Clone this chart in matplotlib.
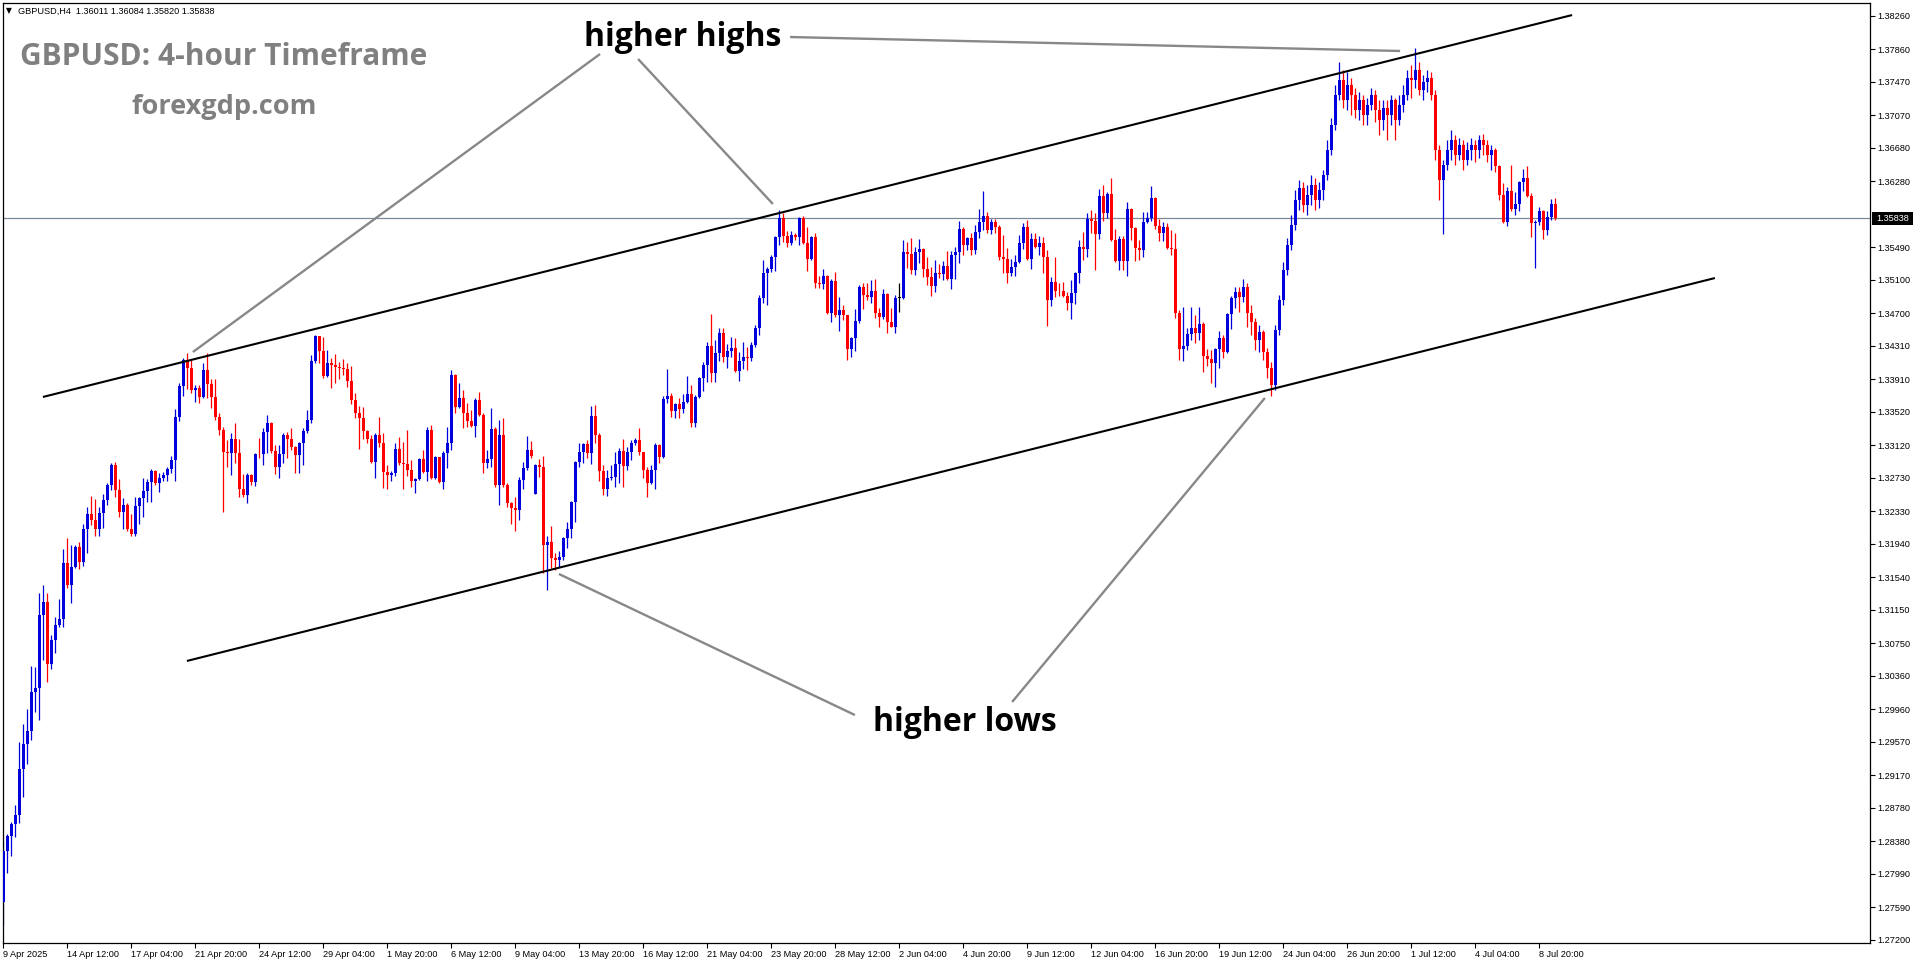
import numpy as np
import matplotlib
matplotlib.use('Agg')
import matplotlib.pyplot as plt
from matplotlib import transforms
from matplotlib.patches import Rectangle

# GBPUSD H4 candles, 9 Apr 2025 20:00 .. 9 Jul 2025 12:00
opens = [
    1.2765, 1.2826, 1.2845, 1.2859, 1.2870, 1.2925, 1.2955, 1.2970, 1.3017, 1.3022,
    1.3109, 1.3124, 1.3050, 1.3079, 1.3097, 1.3104, 1.3171, 1.3145, 1.3166, 1.3190,
    1.3172, 1.3212, 1.3230, 1.3222, 1.3212, 1.3231, 1.3246, 1.3264, 1.3288, 1.3258,
    1.3232, 1.3240, 1.3212, 1.3206, 1.3239, 1.3249, 1.3257, 1.3268, 1.3281, 1.3267,
    1.3273, 1.3276, 1.3284, 1.3294, 1.3346, 1.3383, 1.3414, 1.3404, 1.3378, 1.3381,
    1.3370, 1.3402, 1.3385, 1.3370, 1.3346, 1.3330, 1.3304, 1.3303, 1.3320, 1.3303,
    1.3260, 1.3252, 1.3276, 1.3268, 1.3302, 1.3301, 1.3328, 1.3339, 1.3305, 1.3286,
    1.3302, 1.3324, 1.3319, 1.3310, 1.3300, 1.3315, 1.3329, 1.3342, 1.3413, 1.3443,
    1.3425, 1.3395, 1.3410, 1.3408, 1.3406, 1.3405, 1.3403, 1.3389, 1.3366, 1.3351,
    1.3345, 1.3329, 1.3319, 1.3292, 1.3324, 1.3315, 1.3280, 1.3276, 1.3279, 1.3308,
    1.3291, 1.3290, 1.3282, 1.3269, 1.3272, 1.3296, 1.3280, 1.3330, 1.3273, 1.3298,
    1.3268, 1.3303, 1.3315, 1.3396, 1.3358, 1.3369, 1.3351, 1.3341, 1.3335, 1.3366,
    1.3348, 1.3291, 1.3296, 1.3331, 1.3264, 1.3324, 1.3264, 1.3243, 1.3237, 1.3234,
    1.3270, 1.3285, 1.3306, 1.3254, 1.3288, 1.3286, 1.3193, 1.3196, 1.3177, 1.3175,
    1.3178, 1.3201, 1.3212, 1.3244, 1.3292, 1.3304, 1.3313, 1.3303, 1.3347, 1.3324,
    1.3281, 1.3260, 1.3273, 1.3274, 1.3290, 1.3305, 1.3287, 1.3304, 1.3315, 1.3318,
    1.3304, 1.3282, 1.3267, 1.3282, 1.3312, 1.3298, 1.3367, 1.3371, 1.3353, 1.3361,
    1.3355, 1.3364, 1.3373, 1.3339, 1.3370, 1.3392, 1.3408, 1.3431, 1.3398, 1.3422,
    1.3446, 1.3418, 1.3425, 1.3428, 1.3401, 1.3413, 1.3418, 1.3417, 1.3432, 1.3452,
    1.3488, 1.3518, 1.3523, 1.3537, 1.3561, 1.3584, 1.3562, 1.3554, 1.3564, 1.3561,
    1.3584, 1.3554, 1.3535, 1.3561, 1.3506, 1.3505, 1.3515, 1.3470, 1.3509, 1.3468,
    1.3474, 1.3468, 1.3427, 1.3440, 1.3461, 1.3501, 1.3492, 1.3489, 1.3497, 1.3470,
    1.3466, 1.3493, 1.3460, 1.3454, 1.3488, 1.3488, 1.3543, 1.3541, 1.3522, 1.3543,
    1.3547, 1.3523, 1.3513, 1.3503, 1.3518, 1.3517, 1.3527, 1.3511, 1.3540, 1.3543,
    1.3571, 1.3552, 1.3560, 1.3546, 1.3567, 1.3579, 1.3586, 1.3570, 1.3579, 1.3573,
    1.3537, 1.3535, 1.3518, 1.3525, 1.3531, 1.3554, 1.3573, 1.3535, 1.3559, 1.3549,
    1.3554, 1.3537, 1.3486, 1.3507, 1.3497, 1.3496, 1.3491, 1.3482, 1.3494, 1.3518,
    1.3549, 1.3547, 1.3583, 1.3580, 1.3565, 1.3610, 1.3590, 1.3613, 1.3558, 1.3532,
    1.3559, 1.3532, 1.3595, 1.3572, 1.3548, 1.3546, 1.3579, 1.3584, 1.3608, 1.3574,
    1.3566, 1.3573, 1.3548, 1.3547, 1.3470, 1.3427, 1.3431, 1.3445, 1.3452, 1.3446,
    1.3457, 1.3419, 1.3415, 1.3410, 1.3427, 1.3440, 1.3424, 1.3469, 1.3488, 1.3495,
    1.3489, 1.3501, 1.3470, 1.3460, 1.3438, 1.3447, 1.3424, 1.3404, 1.3384, 1.3450,
    1.3486, 1.3522, 1.3552, 1.3576, 1.3606, 1.3620, 1.3600, 1.3611, 1.3623, 1.3606,
    1.3617, 1.3635, 1.3665, 1.3695, 1.3731, 1.3749, 1.3725, 1.3743, 1.3731, 1.3713,
    1.3725, 1.3707, 1.3719, 1.3731, 1.3713, 1.3701, 1.3716, 1.3707, 1.3725, 1.3701,
    1.3719, 1.3731, 1.3751, 1.3749, 1.3761, 1.3737, 1.3747, 1.3751, 1.3731, 1.3665,
    1.3629, 1.3647, 1.3665, 1.3677, 1.3659, 1.3671, 1.3653, 1.3665, 1.3671, 1.3665,
    1.3677, 1.3671, 1.3659, 1.3665, 1.3646, 1.3611, 1.3579, 1.3616, 1.3595, 1.3601,
    1.3627, 1.3632, 1.3610, 1.3578, 1.3579, 1.3592, 1.3570, 1.3585, 1.36011,
]

highs = [
    1.2838, 1.2847, 1.2861, 1.2882, 1.2957, 1.2979, 1.2996, 1.3048, 1.3047, 1.3135,
    1.3145, 1.3135, 1.3085, 1.3107, 1.3128, 1.3188, 1.3201, 1.3193, 1.3193, 1.3196,
    1.3218, 1.3238, 1.3251, 1.3248, 1.3238, 1.3254, 1.3267, 1.3291, 1.3292, 1.3272,
    1.3249, 1.3243, 1.3230, 1.3250, 1.3250, 1.3273, 1.3272, 1.3284, 1.3282, 1.3279,
    1.3280, 1.3286, 1.3299, 1.3355, 1.3386, 1.3416, 1.3422, 1.3414, 1.3384, 1.3384,
    1.3410, 1.3422, 1.3391, 1.3391, 1.3351, 1.3334, 1.3318, 1.3327, 1.3339, 1.3320,
    1.3278, 1.3279, 1.3278, 1.3303, 1.3321, 1.3333, 1.3348, 1.3340, 1.3312, 1.3312,
    1.3327, 1.3328, 1.3333, 1.3311, 1.3316, 1.3333, 1.3354, 1.3420, 1.3444, 1.3441,
    1.3441, 1.3426, 1.3416, 1.3421, 1.3412, 1.3415, 1.3410, 1.3407, 1.3375, 1.3359,
    1.3358, 1.3330, 1.3324, 1.3327, 1.3346, 1.3327, 1.3288, 1.3281, 1.3315, 1.3322,
    1.3316, 1.3330, 1.3294, 1.3273, 1.3297, 1.3306, 1.3334, 1.3336, 1.3299, 1.3292,
    1.3305, 1.3334, 1.3402, 1.3397, 1.3387, 1.3378, 1.3363, 1.3354, 1.3369, 1.3376,
    1.3351, 1.3306, 1.3357, 1.3334, 1.3342, 1.3345, 1.3267, 1.3244, 1.3250, 1.3274,
    1.3292, 1.3323, 1.3317, 1.3289, 1.3296, 1.3299, 1.3204, 1.3215, 1.3183, 1.3185,
    1.3202, 1.3220, 1.3245, 1.3293, 1.3315, 1.3315, 1.3318, 1.3359, 1.3360, 1.3327,
    1.3288, 1.3282, 1.3288, 1.3304, 1.3309, 1.3320, 1.3310, 1.3318, 1.3321, 1.3333,
    1.3304, 1.3286, 1.3288, 1.3315, 1.3314, 1.3371, 1.3403, 1.3375, 1.3363, 1.3369,
    1.3373, 1.3395, 1.3384, 1.3372, 1.3394, 1.3412, 1.3436, 1.3469, 1.3438, 1.3452,
    1.3452, 1.3433, 1.3441, 1.3440, 1.3424, 1.3436, 1.3430, 1.3436, 1.3456, 1.3492,
    1.3534, 1.3525, 1.3540, 1.3562, 1.3594, 1.3590, 1.3568, 1.3568, 1.3566, 1.3585,
    1.3586, 1.3573, 1.3562, 1.3566, 1.3515, 1.3523, 1.3516, 1.3511, 1.3519, 1.3489,
    1.3480, 1.3464, 1.3442, 1.3475, 1.3504, 1.3506, 1.3506, 1.3510, 1.3511, 1.3476,
    1.3499, 1.3494, 1.3476, 1.3492, 1.3506, 1.3558, 1.3555, 1.3560, 1.3549, 1.3559,
    1.3548, 1.3537, 1.3525, 1.3534, 1.3529, 1.3532, 1.3544, 1.3544, 1.3549, 1.3580,
    1.3573, 1.3561, 1.3566, 1.3576, 1.3595, 1.3616, 1.3591, 1.3583, 1.3583, 1.3576,
    1.3564, 1.3548, 1.3535, 1.3540, 1.3564, 1.3578, 1.3582, 1.3566, 1.3566, 1.3562,
    1.3561, 1.3546, 1.3513, 1.3537, 1.3506, 1.3507, 1.3495, 1.3510, 1.3519, 1.3558,
    1.3567, 1.3590, 1.3594, 1.3590, 1.3619, 1.3623, 1.3615, 1.3632, 1.3571, 1.3562,
    1.3562, 1.3603, 1.3596, 1.3573, 1.3558, 1.3591, 1.3591, 1.3622, 1.3609, 1.3583,
    1.3579, 1.3578, 1.3570, 1.3566, 1.3474, 1.3477, 1.3452, 1.3477, 1.3468, 1.3477,
    1.3460, 1.3427, 1.3426, 1.3428, 1.3449, 1.3444, 1.3470, 1.3491, 1.3501, 1.3501,
    1.3511, 1.3506, 1.3480, 1.3464, 1.3456, 1.3450, 1.3428, 1.3412, 1.3456, 1.3492,
    1.3531, 1.3560, 1.3588, 1.3618, 1.3629, 1.3627, 1.3623, 1.3635, 1.3632, 1.3627,
    1.3641, 1.3677, 1.3704, 1.3743, 1.3771, 1.3761, 1.3759, 1.3751, 1.3740, 1.3735,
    1.3731, 1.3727, 1.3740, 1.3737, 1.3725, 1.3725, 1.3725, 1.3731, 1.3727, 1.3731,
    1.3743, 1.3761, 1.3767, 1.3787, 1.3771, 1.3755, 1.3761, 1.3759, 1.3737, 1.3671,
    1.3653, 1.3677, 1.3689, 1.3683, 1.3680, 1.3677, 1.3675, 1.3680, 1.3677, 1.3683,
    1.3684, 1.3677, 1.3671, 1.3668, 1.3647, 1.3626, 1.3621, 1.3647, 1.3615, 1.3628,
    1.3643, 1.3646, 1.3614, 1.3582, 1.3597, 1.3594, 1.3592, 1.3607, 1.36084,
]

lows = [
    1.2738, 1.2800, 1.2821, 1.2843, 1.2860, 1.2891, 1.2931, 1.2959, 1.2993, 1.2983,
    1.3055, 1.3029, 1.3044, 1.3063, 1.3095, 1.3095, 1.3141, 1.3123, 1.3165, 1.3164,
    1.3168, 1.3183, 1.3216, 1.3204, 1.3204, 1.3213, 1.3240, 1.3258, 1.3250, 1.3226,
    1.3212, 1.3209, 1.3203, 1.3203, 1.3218, 1.3226, 1.3244, 1.3244, 1.3264, 1.3256,
    1.3269, 1.3269, 1.3279, 1.3269, 1.3341, 1.3371, 1.3379, 1.3375, 1.3364, 1.3363,
    1.3369, 1.3369, 1.3357, 1.3342, 1.3324, 1.3232, 1.3286, 1.3276, 1.3291, 1.3250,
    1.3250, 1.3243, 1.3264, 1.3263, 1.3297, 1.3288, 1.3303, 1.3303, 1.3278, 1.3273,
    1.3291, 1.3297, 1.3306, 1.3279, 1.3279, 1.3288, 1.3327, 1.3339, 1.3410, 1.3410,
    1.3392, 1.3394, 1.3381, 1.3387, 1.3391, 1.3396, 1.3382, 1.3361, 1.3345, 1.3308,
    1.3319, 1.3315, 1.3291, 1.3273, 1.3310, 1.3261, 1.3260, 1.3269, 1.3275, 1.3288,
    1.3260, 1.3275, 1.3262, 1.3255, 1.3270, 1.3279, 1.3269, 1.3272, 1.3272, 1.3267,
    1.3260, 1.3285, 1.3306, 1.3351, 1.3357, 1.3333, 1.3334, 1.3334, 1.3322, 1.3347,
    1.3279, 1.3285, 1.3286, 1.3262, 1.3240, 1.3262, 1.3238, 1.3218, 1.3210, 1.3222,
    1.3260, 1.3282, 1.3297, 1.3254, 1.3274, 1.3159, 1.3139, 1.3165, 1.3163, 1.3166,
    1.3175, 1.3189, 1.3201, 1.3220, 1.3286, 1.3291, 1.3297, 1.3290, 1.3315, 1.3269,
    1.3252, 1.3251, 1.3270, 1.3262, 1.3267, 1.3262, 1.3282, 1.3294, 1.3312, 1.3300,
    1.3273, 1.3250, 1.3266, 1.3260, 1.3291, 1.3297, 1.3363, 1.3346, 1.3345, 1.3345,
    1.3351, 1.3363, 1.3334, 1.3334, 1.3369, 1.3377, 1.3388, 1.3388, 1.3388, 1.3413,
    1.3412, 1.3404, 1.3418, 1.3400, 1.3389, 1.3403, 1.3402, 1.3413, 1.3430, 1.3444,
    1.3482, 1.3480, 1.3519, 1.3520, 1.3552, 1.3555, 1.3549, 1.3552, 1.3558, 1.3552,
    1.3553, 1.3520, 1.3534, 1.3500, 1.3500, 1.3499, 1.3469, 1.3460, 1.3466, 1.3449,
    1.3462, 1.3414, 1.3418, 1.3425, 1.3458, 1.3475, 1.3486, 1.3482, 1.3464, 1.3454,
    1.3463, 1.3446, 1.3453, 1.3446, 1.3471, 1.3487, 1.3524, 1.3517, 1.3516, 1.3530,
    1.3513, 1.3504, 1.3491, 1.3495, 1.3512, 1.3510, 1.3510, 1.3499, 1.3511, 1.3530,
    1.3540, 1.3546, 1.3540, 1.3541, 1.3560, 1.3570, 1.3566, 1.3565, 1.3566, 1.3534,
    1.3518, 1.3506, 1.3515, 1.3515, 1.3530, 1.3547, 1.3534, 1.3523, 1.3548, 1.3540,
    1.3518, 1.3455, 1.3479, 1.3489, 1.3491, 1.3490, 1.3474, 1.3463, 1.3481, 1.3506,
    1.3534, 1.3537, 1.3566, 1.3522, 1.3559, 1.3580, 1.3584, 1.3557, 1.3531, 1.3522,
    1.3522, 1.3515, 1.3558, 1.3532, 1.3534, 1.3537, 1.3578, 1.3580, 1.3571, 1.3556,
    1.3557, 1.3547, 1.3540, 1.3464, 1.3414, 1.3413, 1.3426, 1.3438, 1.3434, 1.3438,
    1.3400, 1.3407, 1.3386, 1.3382, 1.3404, 1.3416, 1.3422, 1.3451, 1.3476, 1.3471,
    1.3483, 1.3454, 1.3444, 1.3426, 1.3424, 1.3414, 1.3392, 1.3371, 1.3378, 1.3444,
    1.3480, 1.3516, 1.3546, 1.3570, 1.3594, 1.3591, 1.3588, 1.3600, 1.3594, 1.3596,
    1.3605, 1.3629, 1.3659, 1.3689, 1.3725, 1.3716, 1.3713, 1.3707, 1.3704, 1.3701,
    1.3695, 1.3695, 1.3713, 1.3699, 1.3683, 1.3689, 1.3677, 1.3695, 1.3677, 1.3695,
    1.3711, 1.3725, 1.3727, 1.3739, 1.3731, 1.3725, 1.3735, 1.3725, 1.3653, 1.3605,
    1.3565, 1.3641, 1.3653, 1.3647, 1.3653, 1.3641, 1.3647, 1.3653, 1.3651, 1.3656,
    1.3659, 1.3651, 1.3641, 1.3639, 1.3605, 1.3578, 1.3574, 1.3592, 1.3587, 1.3592,
    1.3616, 1.3609, 1.3561, 1.3524, 1.3576, 1.3559, 1.3564, 1.3582, 1.35820,
]

closes = [
    1.2826, 1.2845, 1.2859, 1.2870, 1.2925, 1.2955, 1.2970, 1.3017, 1.3022, 1.3109,
    1.3124, 1.3050, 1.3079, 1.3097, 1.3104, 1.3171, 1.3145, 1.3166, 1.3190, 1.3172,
    1.3212, 1.3230, 1.3222, 1.3212, 1.3231, 1.3246, 1.3264, 1.3288, 1.3258, 1.3232,
    1.3240, 1.3212, 1.3206, 1.3239, 1.3249, 1.3257, 1.3268, 1.3281, 1.3267, 1.3273,
    1.3276, 1.3284, 1.3294, 1.3346, 1.3383, 1.3414, 1.3404, 1.3378, 1.3381, 1.3370,
    1.3402, 1.3385, 1.3370, 1.3346, 1.3330, 1.3304, 1.3303, 1.3320, 1.3303, 1.3260,
    1.3252, 1.3276, 1.3268, 1.3302, 1.3301, 1.3328, 1.3339, 1.3305, 1.3286, 1.3302,
    1.3324, 1.3319, 1.3310, 1.3300, 1.3315, 1.3329, 1.3342, 1.3413, 1.3443, 1.3425,
    1.3395, 1.3410, 1.3408, 1.3406, 1.3405, 1.3403, 1.3389, 1.3366, 1.3351, 1.3345,
    1.3329, 1.3319, 1.3292, 1.3324, 1.3315, 1.3280, 1.3276, 1.3279, 1.3308, 1.3291,
    1.3290, 1.3282, 1.3269, 1.3272, 1.3296, 1.3280, 1.3330, 1.3273, 1.3298, 1.3268,
    1.3303, 1.3315, 1.3396, 1.3358, 1.3369, 1.3351, 1.3341, 1.3335, 1.3366, 1.3348,
    1.3291, 1.3296, 1.3331, 1.3264, 1.3324, 1.3264, 1.3243, 1.3237, 1.3234, 1.3270,
    1.3285, 1.3306, 1.3299, 1.3288, 1.3286, 1.3193, 1.3196, 1.3177, 1.3175, 1.3178,
    1.3201, 1.3212, 1.3244, 1.3292, 1.3304, 1.3313, 1.3303, 1.3347, 1.3324, 1.3281,
    1.3260, 1.3273, 1.3274, 1.3290, 1.3305, 1.3287, 1.3304, 1.3315, 1.3318, 1.3304,
    1.3282, 1.3267, 1.3282, 1.3312, 1.3298, 1.3367, 1.3371, 1.3353, 1.3361, 1.3355,
    1.3364, 1.3373, 1.3339, 1.3370, 1.3392, 1.3408, 1.3431, 1.3398, 1.3422, 1.3446,
    1.3418, 1.3425, 1.3428, 1.3401, 1.3413, 1.3418, 1.3417, 1.3432, 1.3452, 1.3488,
    1.3518, 1.3523, 1.3537, 1.3561, 1.3584, 1.3562, 1.3554, 1.3564, 1.3561, 1.3584,
    1.3554, 1.3535, 1.3561, 1.3506, 1.3505, 1.3515, 1.3470, 1.3509, 1.3468, 1.3474,
    1.3468, 1.3427, 1.3440, 1.3461, 1.3501, 1.3492, 1.3489, 1.3497, 1.3470, 1.3466,
    1.3493, 1.3460, 1.3454, 1.3488, 1.3488, 1.3543, 1.3541, 1.3522, 1.3543, 1.3547,
    1.3523, 1.3513, 1.3503, 1.3518, 1.3517, 1.3527, 1.3511, 1.3540, 1.3543, 1.3571,
    1.3552, 1.3560, 1.3546, 1.3567, 1.3579, 1.3586, 1.3570, 1.3579, 1.3573, 1.3537,
    1.3535, 1.3518, 1.3525, 1.3531, 1.3554, 1.3573, 1.3535, 1.3559, 1.3549, 1.3554,
    1.3537, 1.3486, 1.3507, 1.3497, 1.3496, 1.3491, 1.3482, 1.3494, 1.3518, 1.3549,
    1.3547, 1.3583, 1.3580, 1.3565, 1.3610, 1.3590, 1.3613, 1.3558, 1.3532, 1.3559,
    1.3532, 1.3595, 1.3572, 1.3548, 1.3546, 1.3579, 1.3584, 1.3608, 1.3574, 1.3566,
    1.3573, 1.3548, 1.3547, 1.3470, 1.3427, 1.3431, 1.3445, 1.3452, 1.3446, 1.3457,
    1.3419, 1.3415, 1.3410, 1.3427, 1.3440, 1.3424, 1.3469, 1.3488, 1.3495, 1.3489,
    1.3501, 1.3470, 1.3460, 1.3438, 1.3447, 1.3424, 1.3404, 1.3384, 1.3450, 1.3486,
    1.3522, 1.3552, 1.3576, 1.3606, 1.3620, 1.3600, 1.3611, 1.3623, 1.3606, 1.3617,
    1.3635, 1.3665, 1.3695, 1.3731, 1.3749, 1.3725, 1.3743, 1.3731, 1.3713, 1.3725,
    1.3707, 1.3719, 1.3731, 1.3713, 1.3701, 1.3716, 1.3707, 1.3725, 1.3701, 1.3719,
    1.3731, 1.3751, 1.3749, 1.3761, 1.3737, 1.3747, 1.3751, 1.3731, 1.3665, 1.3629,
    1.3647, 1.3665, 1.3677, 1.3659, 1.3671, 1.3653, 1.3665, 1.3671, 1.3665, 1.3677,
    1.3671, 1.3659, 1.3665, 1.3646, 1.3611, 1.3579, 1.3616, 1.3595, 1.3601, 1.3627,
    1.3632, 1.3610, 1.3578, 1.3579, 1.3592, 1.3570, 1.3585, 1.36011, 1.35838,
]

price_ticks = [1.38260, 1.37860, 1.37470, 1.37070, 1.36680, 1.36280, 1.35490,
               1.35100, 1.34700, 1.34310, 1.33910, 1.33520, 1.33120, 1.32730,
               1.32330, 1.31940, 1.31540, 1.31150, 1.30750, 1.30360, 1.29960,
               1.29570, 1.29170, 1.28780, 1.28380, 1.27990, 1.27590, 1.27200]

time_labels = ['9 Apr 2025', '14 Apr 12:00', '17 Apr 04:00', '21 Apr 20:00',
               '24 Apr 12:00', '29 Apr 04:00', '1 May 20:00', '6 May 12:00',
               '9 May 04:00', '13 May 20:00', '16 May 12:00', '21 May 04:00',
               '23 May 20:00', '28 May 12:00', '2 Jun 04:00', '4 Jun 20:00',
               '9 Jun 12:00', '12 Jun 04:00', '16 Jun 20:00', '19 Jun 12:00',
               '24 Jun 04:00', '26 Jun 20:00', '1 Jul 12:00', '4 Jul 04:00',
               '8 Jul 20:00']
time_label_bars = [0, 16, 32, 48, 64, 80, 96, 112, 128, 144, 160, 176, 192,
                   208, 224, 240, 256, 272, 288, 304, 320, 336, 352, 368, 384]

last_price = 1.35838
header = 'GBPUSD,H4  1.36011 1.36084 1.35820 1.35838'

W, H = 1916, 964
SMALL = ['Liberation Sans', 'DejaVu Sans']
BIG = ['Open Sans', 'DejaVu Sans']

fig = plt.figure(figsize=(W / 100, H / 100), dpi=100)
fig.patch.set_facecolor('white')
ax = fig.add_axes([3 / W, 1 - 943 / H, 1867 / W, 940 / H])
ax.set_xlim(-0.075, 466.675)
ax.set_ylim(1.271641, 1.384122)

o = np.array(opens)
c = np.array(closes)
h = np.maximum(np.array(highs), np.maximum(o, c))
l = np.minimum(np.array(lows), np.minimum(o, c))
x = np.arange(len(c))

col = np.where(c > o, '#0000dd', np.where(c < o, '#ff0000', '#000000'))

ax.axhline(last_price, color='#7a8a9a', lw=0.9, zorder=1)
ax.vlines(x, l, h, colors=col, lw=0.9, zorder=2)
body = np.maximum(np.abs(c - o), 0.00009)
ax.bar(x, body, bottom=np.minimum(o, c), width=0.68, color=col,
       linewidth=0, zorder=3)

# channel lines
ax.plot([9.9, 392.2], [1.33698, 1.38268], color='black', lw=1.5, zorder=4,
        solid_capstyle='butt')
ax.plot([45.9, 427.9], [1.30539, 1.35121], color='black', lw=1.5, zorder=4,
        solid_capstyle='butt')

# pointer lines
grey = '#888888'
for (x0, y0), (x1, y1) in [((149.2, 1.37802), (47.4, 1.34236)),
                           ((158.7, 1.37742), (192.4, 1.36007)),
                           ((196.7, 1.38005), (349.2, 1.37838)),
                           ((212.9, 1.29892), (138.9, 1.31580)),
                           ((252.2, 1.30048), (315.4, 1.33686))]:
    ax.plot([x0, x1], [y0, y1], color=grey, lw=1.7, zorder=4,
            solid_capstyle='butt')

ax.text(169.9, 1.3800, 'higher highs', ha='center', va='center',
        fontsize=23, fontweight='bold', family=BIG, color='black', zorder=5)
ax.text(240.4, 1.2980, 'higher lows', ha='center', va='center',
        fontsize=23, fontweight='bold', family=BIG, color='black', zorder=5)

# axes styling
for s in ax.spines.values():
    s.set_color('black')
    s.set_linewidth(0.9)
ax.yaxis.tick_right()
ax.set_yticks(price_ticks)
ax.set_yticklabels(['%.5f' % p for p in price_ticks])
ax.set_xticks(time_label_bars)
ax.set_xticklabels(time_labels)
ax.tick_params(axis='both', direction='out', length=3.5, width=0.8,
               labelsize=6.6, pad=1.5, colors='black')
for lab in ax.get_xticklabels():
    lab.set_horizontalalignment('left')
    lab.set_family(SMALL)
for lab in ax.get_yticklabels():
    lab.set_family(SMALL)

# last price marker on the scale
bt = transforms.blended_transform_factory(ax.transAxes, ax.transData)
ax.add_patch(Rectangle((1.0011, last_price - 0.00078), 41 / 1867, 0.00156,
                       transform=bt, facecolor='black', edgecolor='none',
                       clip_on=False, zorder=6))
ax.text(1.0032, last_price, '%.5f' % last_price, transform=bt, ha='left',
        va='center', color='white', fontsize=6.6, family=SMALL, zorder=7,
        clip_on=False)

# header and watermark titles
fig.text(6 / W, 1 - 11 / H, '\u25bc', fontsize=5.5, family='DejaVu Sans',
         ha='left', va='center')
fig.text(18 / W, 1 - 11 / H, header, fontsize=6.6, family=SMALL,
         ha='left', va='center')
fig.text(224 / W, 1 - 57 / H, 'GBPUSD: 4-hour Timeframe', fontsize=21.5,
         fontweight='bold', family=BIG, color='#808080', ha='center',
         va='center')
fig.text(224 / W, 1 - 107 / H, 'forexgdp.com', fontsize=19.5,
         fontweight='bold', family=BIG, color='#808080', ha='center',
         va='center')

fig.savefig('out.png', dpi=100, facecolor='white')
